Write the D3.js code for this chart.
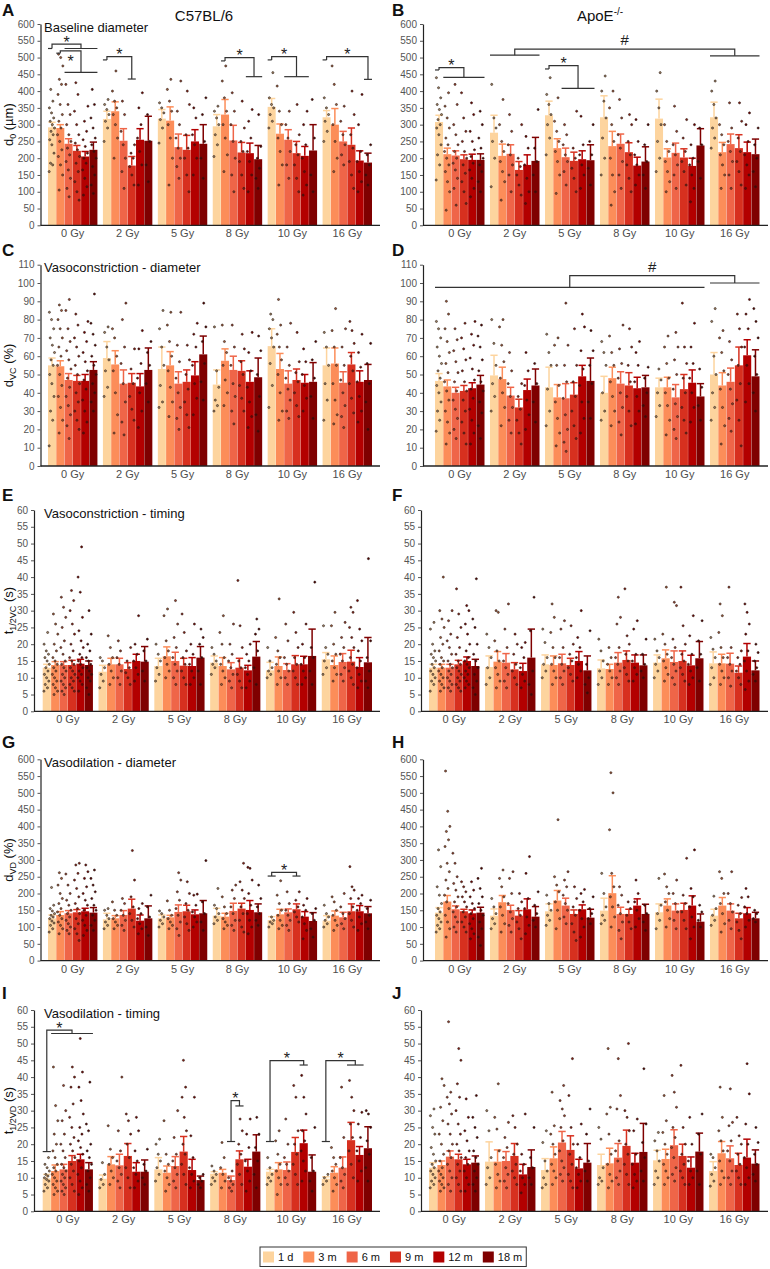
<!DOCTYPE html>
<html lang="en">
<head>
<meta charset="utf-8">
<title>vascular responses by dose and age</title>
<script src="https://d3js.org/d3.v7.min.js"></script>
<style>
body{margin:0;background:#fff;}
svg text{font-family:"Liberation Sans",Arial,sans-serif;}
.axis line{stroke:#555;}
.axis path{stroke:#222;stroke-width:1.2px;}
.axis text{fill:#555;font-size:10px;}
</style>
</head>
<body>
<div id="chart"></div>
<script>
var doses = ["0 Gy","2 Gy","5 Gy","8 Gy","10 Gy","16 Gy"];
var ages = ["1 d","3 m","6 m","9 m","12 m","18 m"];
var ageColors = ["#fdd49e","#fc8d59","#ef6548","#d7301f","#b30000","#7f0000"];

// rows = dose, columns = age; err = top of the error bar
var meanA = [[292,290,243,222,205,225],[317,340,252,178,255,252],[318,312,233,225,250,243],[295,330,253,217,215,197],[353,273,255,215,207,223],[322,300,250,240,193,187]];
var errA  = [[307,300,258,238,220,248],[340,368,288,205,288,325],[345,353,272,268,285,300],[330,375,298,247,245,238],[378,302,285,250,235,300],[342,348,280,290,222,215]];
var meanB = [[308,212,208,197,195,195],[276,207,213,165,180,192],[328,230,203,192,197,194],[322,236,243,218,178,190],[318,202,216,202,177,238],[322,218,242,230,218,212]];
var errB  = [[328,230,222,210,212,213],[328,242,240,190,210,262],[370,258,230,218,222,240],[386,280,272,246,203,234],[376,228,245,228,200,288],[367,247,272,270,248,257]];
var meanC = [[55,54.5,47,46.5,46.5,52.5],[59,55.5,45,45.5,43.5,52.5],[53,55,45,46,49.5,61],[44.5,57.5,52.5,52,46,48.5],[65.5,53,45,47,45.5,46],[55,56,45.5,55.5,46,47]];
var errC  = [[59,57.5,50.5,49.5,50,57],[68,63,52.5,50.5,50.5,64.5],[65,62.5,51.5,52.5,57,71],[52.5,64,60,57.5,52,59],[75,61.5,52,53,50,56.5],[64.5,64.5,51.5,62,52,55.5]];
var meanD = [[46.5,43.5,40,41,42.5,44.5],[49.5,47.5,38.5,32,41.5,44],[43,37.5,37,39,49,46.5],[40,48,45,44,42.5,43],[43,43,37.5,42,45.5,38],[50,44,46,55,60.5,49]];
var errD  = [[50.5,47,43,44,45.5,49.5],[60.5,54,43,36.5,47.5,53],[54,44.5,45,45.5,55,59],[49,54,51.5,51,48.5,49.5],[48,48.5,44.5,50,52.5,45],[62,51,53.5,65,69,63.5]];
var meanE = [[13,13.8,13.8,13.8,14.2,13.8],[11.8,14,14,12.6,15,14.8],[13.5,16.4,15,13.6,13.5,16],[14.5,13.5,12.5,13,12.2,16.3],[12.2,13.5,12.3,14,14,16.5],[15.5,13.8,14.7,14.8,13.2,14.6]];
var errE  = [[14,14.8,14.8,15.2,15.5,15],[13.7,15.8,15.8,14.5,17,19.3],[15.8,19.2,17.6,15.8,16,19.3],[16.5,16,14.5,15.8,13.7,20.8],[14.6,16.2,14.2,16.6,16.4,24.5],[17.5,16.5,17.2,18.2,16,22]];
var meanF = [[13,13,13,14,15,13.5],[13.2,14.8,14.5,12.5,12,16],[14,13.8,14.3,13.8,15,12.2],[12.8,12.6,14.5,15.3,14.5,13.7],[14.5,15.8,14.7,15,13.7,15.8],[14.3,14.3,14.2,11.5,16.3,12.2]];
var errF  = [[14,14,14,15.2,16.2,15.5],[16.5,17.8,17.2,14.5,14.3,24.5],[16.8,16.5,17,15.8,17.8,16.5],[15.3,14,17.5,18,16.8,16.8],[16.8,18.3,18,18,16.7,20.8],[17.7,17,17.3,13.5,20.2,15]];
var meanG = [[126,136,141,144,147,143],[123,126,136,155,119,126],[126,129,145,147,138,141],[134,131,148,155,151,144],[121,138,144,153,131,118],[119,134,129,147,147,141]];
var errG  = [[136,146,149,152,156,158],[141,134,149,183,136,163],[136,135,166,165,151,179],[156,141,171,171,179,169],[131,153,154,169,146,143],[134,148,144,169,164,161]];
var meanH = [[143,176,153,147,141,143],[134,174,151,134,153,131],[147,179,164,139,153,128],[149,201,139,139,164,139],[144,164,149,151,164,116],[134,164,149,126,141,126]];
var errH  = [[158,194,163,153,151,159],[154,194,165,149,184,161],[169,209,186,151,166,153],[186,253,159,153,184,168],[169,184,169,171,193,139],[153,188,169,141,158,144]];
var meanI = [[9.8,12,12.5,15,15.5,12.5],[9.7,14,13.7,16.5,11.8,11.8],[12.5,11.5,13.5,17.8,12.3,9.3],[11.2,11.5,9.3,15.5,13.3,17.8],[11.8,12.5,12.3,17.7,20.3,11.8],[9.7,11.5,13,21.2,16.8,18.8]];
var errI  = [[11,13.8,14,16.6,17,14.5],[10.8,16.3,17,20.2,14.5,15.3],[16,13.5,16.3,22.3,15.5,10.5],[11.8,12.5,10.5,18,15.5,22.8],[12.5,14.5,14.7,22,24.2,16.8],[10.3,13.3,16.2,26.5,19.3,25.2]];
var meanJ = [[13,13.8,16.3,15.5,14,14.5],[14.8,14.8,15,16.5,11,13.2],[12.3,15.8,20.5,18.3,12.8,14.5],[13.8,14.3,16,19.5,14.5,17.7],[15.2,15.6,19.7,16.5,13,17.8],[12,17.3,15.8,13.8,16,14.2]];
var errJ  = [[14.5,15,18,17,15.5,16.5],[20.7,18.3,17.8,20.2,14,18.3],[15.7,19.2,23.8,22.5,15.5,20.2],[17,18.8,20.2,24.2,17.3,26.2],[18.2,18.5,24.3,20,16.2,23.3],[14.8,20.8,19.5,17.3,21.5,18.3]];

// individual vessels, one string per dose, ages separated by ";"
var dotsA = [
"160 180 185 215 240 255 270 280 290 300 310 320 335 350 370 405;105 150 180 205 225 250 270 290 310 330 360 390 420 435 475 500 510;85 110 140 165 190 210 230 250 270 300 330 360 420;75 100 130 160 185 205 225 245 270 300 340 390 425;90 115 140 165 185 200 215 235 255 280 310 355;95 120 150 175 200 220 240 260 290 320 360 405",
"250 290 310 330 345 360 375;200 260 300 330 350 370 400 460;110 160 200 240 280 330 370;120 150 175 200 215 240;120 180 220 260 300 350 395;130 180 250 330",
"245 290 315 335 350 365;120 200 260 300 340 370 405 435;140 175 200 230 260 300 340 430;100 150 200 230 270 360 400;150 200 240 270 320 350;140 200 250 330 380",
"205 240 270 300 320 340 355;160 210 260 300 340 380 430 475;100 150 200 250 300 340 395;110 150 190 220 250 290 370;100 150 190 220 260 310 345;110 140 170 200 235 330",
"290 310 330 350 360 380 455;120 180 220 260 300 340 415;140 180 220 260 300 340;100 140 180 210 240 270 360;90 120 160 200 240 300 340;100 150 260 375",
"250 280 310 330 350 380;160 200 250 300 360 420 475;180 210 240 270 310 355;110 150 190 230 270 330 400;100 130 160 190 220 300 390;120 150 180 210 240"];
var dotsB = [
"135 180 210 240 270 290 300 315 330 345 360 380 410 440;45 100 130 160 180 200 220 240 260 290 320 355 395;60 110 140 165 185 200 220 240 270 300 360 420;65 100 130 155 180 200 220 250 280 320 395;85 110 140 165 185 205 225 250 280 330 365;100 130 160 180 200 230 260 300 340",
"115 200 250 290 320 420;75 130 160 190 220 250 300 375;100 150 180 210 240 280 330;90 120 150 175 200 300;65 100 140 180 230 265;100 150 190 230 345",
"210 260 300 330 360 390 440;95 150 190 220 250 280 310 380;120 160 190 210 240 270 300;100 140 170 200 230 340;110 150 180 210 240 325;120 170 210 250 300",
"150 200 260 320 370 400 445;60 100 150 200 250 300 350 400;110 150 190 230 270 320 375;100 140 180 210 250 300 330;120 150 180 210 250 315;110 150 190 240 300",
"160 200 250 300 350 400 455;100 130 160 190 220 250 300;110 150 180 210 240 280 355;120 160 190 220 260 315;70 110 150 180 200 240 300;140 190 240 290",
"230 260 290 320 360 400 430;110 150 180 210 240 270 300;110 150 190 220 250 290 365;120 160 190 220 260 310 365;110 150 180 210 250 300 335;115 160 200 240 290"];
var dotsC = [
"11 25 30 38 45 50 55 58 62 66 70 75 80 84;18 25 32 38 44 50 55 60 65 70 75 80 85 88;15 22 28 33 38 43 48 53 58 63 68 75 85 91;20 25 30 35 40 45 50 55 60 65 70 77 83;18 24 30 36 42 47 52 57 62 68 73 79;30 35 40 45 50 55 60 66 72 78 94",
"38 43 52 58 65 73 76;18 28 40 52 60 70 75;17 24 35 45 56 65 80 89;25 31 38 45 53 64;21 30 40 48 56 64 74;35 45 55 62 68",
"32 35 44 55 65 75 85;27 35 43 52 60 68 77 84;20 26 32 40 48 57 66 84;21 28 35 42 50 58 66;28 37 45 55 65 72 78;36 46 56 68 76 89",
"30 33 36 43 52 76;33 40 47 55 62 68 77;23 30 38 45 55 65 77;30 37 44 50 57 64 72;21 27 35 43 52 62 73;19 28 38 50 63 71",
"32 44 56 65 70 75 80 83;25 30 40 50 58 65 72 77 91;26 30 36 42 48 55 65 78;27 33 40 46 51 57 73;30 37 44 50 57 64;26 38 48 58 68",
"25 36 45 55 65 73;23 28 36 45 55 65 74 86;21 27 33 40 47 55 65 75;29 37 45 52 60 67 74 79;24 30 38 46 54 62 72;20 35 45 56 67"];
var dotsD = [
"19 25 30 35 40 44 48 52 56 60 65 70 75 79;12 18 24 30 36 41 46 51 56 62 68 75 83 90;15 20 26 31 36 41 46 51 57 63 69 75;12 18 24 30 36 41 46 52 58 64 70 78;12 18 25 31 37 42 47 53 59 66 72 79;15 22 29 35 41 46 52 58 65 71 77",
"30 38 45 55 67 80;22 32 40 48 57 66 76 80;18 25 32 38 45 52 62;12 18 25 31 38 45;20 28 36 44 52 62;24 35 45 56",
"22 30 42 55 62 72;11 18 26 35 44 55 66 70;8 13 20 28 37 46 55 66 89;15 22 30 38 46 55 75;18 26 35 44 53 63 76 83;26 35 45 55 63 74",
"25 30 40 55 62 68;22 30 38 46 55 62 71;17 24 32 40 48 56 64 77;22 30 38 46 55 65 75;23 30 38 46 55 62 68;27 33 40 48 54",
"27 33 40 47 53;17 25 33 40 48 56 65 71;15 20 27 34 42 50 58 65 73;18 25 32 40 48 56 65 89;24 32 40 48 56 65 78;25 33 43 53",
"25 32 40 50 60 79 86;12 22 32 42 52 62 70 74;19 26 34 42 50 58 68;11 25 36 45 55 65 75 83;35 45 55 65 75 83 91;30 40 50 60 70 79 86"];
var dotsE = [
"6 7 8 9 10 11 12 13 14 15 16 17 18 20 23.5;5 6 7 8 9 10 11 12 13 14 15 16 18 20 23 26 29;5 6 7 8 9 10 11 12 13 14 15 17 19 21 25 28 31 34;6 7 8 9 10 11 12 13 14 15 16 18 20 23 26 30 33 36;6 8 9 10 11 12 13 14 15 16 17 19 21 24 28 35.5 40 49;5 7 9 10 11 12 13 14 15 16 18 20 23 30",
"7 9 11 13 15 16;8 10 12 14 16 19 22.5;8 10 12 14 16 18 21;8 10 11.5 13 15 19;9 11 13 15 17 20 28.5;9 12 15 18 21.5",
"9 11 13 15 17 20;10 12 14 16 18 21 28.5 30.5;8 10 12 14 16 19 22 26 33;8 10 12 14 16 18 23.5 29;8 10 12 14 17 20 26;8 12 16 20 22 24.5",
"11 13 14 15 17 19;8 10 12 14 16 20 23.5 28.5;7 9 11 13 15 17 20 26;7 9 11 13 15 19 25.5 39;7 9 11 13 15 17 20;8 13 18 23 24.5 27.5",
"10 11 12 13 15 19;8 10 12 14 16 18 22 33.5;8 10 12 14 16 21 26;8 10 12 14 16 19 23.5 29.5;8 10 12 14 16 20 26;8 12 16 19 38.5",
"11 13 15 17 19 25.5;9 11 13 15 17 20 25.5 29.5;9 11 13 15 17 19 22 26.5;8 10 12 14 16 19 22 25 29.5 31;7 9 11 13 15 18 21 24.5 33;7 9 12 16 21 45.5"];
var dotsF = [
"6 8 9 10 11 12 13 14 15 16 17 18 20 24.5 26.5;6 7 8 9 10 11 12 13 14 15 16 18 20 22 25 27.5 30 40;6 7 8 9 10 11 12 13 14 15 17 19 21 23 27 30;6 7 8 9 10 11 12 13 14 15 17 19 22 25 29 36.5;7 8 9 10 11 12 13 14 15 16 18 20 23 26 30 31.5;5 7 9 11 13 15 17 20 25 27.5 39.5",
"8 10 13 16 19 23;7 9 11 13 15 18 21 29.5 30;7 9 11 13 15 19 24.5 32;8 10 12 14 17 20 23;7 9 11 13 16 19 20.5;5 8 12 24 34",
"10 12 14 16 20.5 24.5;8 10 12 14 16 19 23.5 28 32;8 10 12 14 16 19 24.5 27;9 11 13 15 17 20 25.5;10 12 14 16 19 22 30;5.5 8 10 14 24",
"8 10 12 15 18 21.5;8 10 12 14 16 19;8 10 12 14 16 19 26 28 34;9 11 13 15 17 20 22.5 36.5;9 11 13 15 17 24.5 27;10 12 14 17 21.5",
"10 12 14 16 18 21.5;9 11 13 15 17 20 23 37;8 10 12 14 16 19 21.5 31.5 32.5;9 11 13 15 17 20 25.5 37;8 10 12 14 17 22.5 28.5;9 13 17 21 27",
"8 10 13 16 18.5 22;8 10 12 14 16 19 23.5 28.5 32;7.5 10 12 14 16 19 37;8 10 12 14 16 18;6.5 9 12 15 18 23 26 29.5 32;9 11 13 15 17.5 20"];
var dotsG = [
"85 95 105 112 118 125 130 135 140 148 155 165 218;80 95 105 115 125 135 145 155 170 185 200 225 245 262;80 90 100 110 120 130 140 150 165 180 200 225 258;60 80 95 110 125 140 155 170 190 215 240 260 285 290;75 90 105 120 135 150 165 180 200 220 245 265 285;90 105 120 135 150 165 185 205 225 245 270",
"95 105 115 125 135 150 155;95 105 115 125 135 150 175;90 105 120 135 150 170 185;100 120 140 160 190 240 328;80 95 110 125 140 155 170;75 100 130 160 195",
"100 110 120 130 140 148;95 105 115 125 135 150 178;75 95 115 135 155 180 205 240 262;90 110 130 150 170 200 235;100 115 130 145 165 195 198;90 115 140 175 298",
"110 120 130 140 155 165 215;95 105 115 125 140 160 190;90 105 120 140 160 185 210 225;85 100 120 140 160 185 210 235 290;80 100 120 140 165 200 240 275 278;105 120 140 160 185 225",
"100 110 115 120 130;95 105 120 135 150 170 195 238;90 105 120 135 150 170 205;115 130 145 160 180 205;65 90 110 130 150 165 185;70 95 120 140 155",
"100 110 120 130 140 165;90 105 120 135 150 175 190;95 110 125 140 160 200;100 120 140 160 185 210 220 280;90 110 130 150 170 185 195;95 115 135 155 180"];
var dotsH = [
"85 95 105 115 125 135 145 155 170 195 220 280 330;70 95 115 135 155 175 195 215 240 265 290 340 360 385 400 445 565;85 100 115 130 145 160 175 190 210 230 250 290 320;85 100 115 130 145 160 175 190 205 220 235;65 80 95 110 125 140 155 170 190 210 235;45 70 95 115 135 150 170 190 215 245 275",
"95 110 125 140 160 185;85 110 135 160 190 220 245 270;85 105 125 145 170 200 245 265;65 95 115 135 155 175 200;80 105 130 155 185 260 310;100 120 140 165 205",
"105 120 135 150 170 195;95 125 150 175 205 225 250 420;110 130 150 170 195 220 240 265;60 85 110 135 160 185 220;70 100 125 150 175 200 212;110 125 140 155 190",
"110 120 135 160 200 260;100 130 160 190 220 260 390 500 560;65 90 115 140 165 195 220;95 115 135 155 175;100 125 150 175 200 240;90 115 140 165",
"95 120 140 165 245;100 125 150 175 200 220 258;95 120 145 170 200 240;95 120 145 170 195 305;65 100 130 160 190 215 330;100 120 145 165",
"105 120 135 155 192;85 110 140 170 200 245 265;95 120 145 170 200 265;65 90 115 140 165 188;100 120 140 160 190 215;115 125 140 150"];
var dotsI = [
"6 7 8 9 9.5 10 10.5 11 12 13 14 16;5 6 7 8 9 10 11 12 13 14 16 18 20 23 27 31.5 43;5 6 7 8 9 10 11 12 13 14 16 18 20 23 27 30 37.5;6 8 10 12 14 16 18 20 22 25 28 32 37 40 43;5 7 9 11 13 15 17 19 21 23 25 29 33 37 41.5 51.5;6 8 10 12 14 16 18 20 24 26 38.5",
"7 8 9.5 11 14.5;8 10 12 14 16 18.5 25.5;7 9 11 13 15 18 24 40;7 10 13 16 20 23 27 29;7 9 11 13 15 18 24 28;8 10 12 14 18.5",
"9 11 13 15 17 20 21.5;6 8 10 12 14 17 27;7 9 11 13 15 17 22 30;8 11 14 17 20 24 28 34 37 45;7 9 11 13 16 22.5 34;7 8 9 10 11",
"8 9 10 11 12 13.5;7 9 11 13 16 20.5;6 7 8 9 10 12;8 11 14 17 20 24 27.5;6 9 12 15 19 23 27.5;7 11 15 19 23 28",
"8 9 10 11 13 16;5 8 10 12 14 17 21 24;8 10 12 14 16 20 27.5;8 11 14 17 20 24 34 37.5;9 12 15 18 21 24 29 34 40.5;6 9 12 16 25",
"8 9 10 11;6 8 10 12 14 16 19;7 9 11 13 16 22 37;10 14 18 22 26 30 34 39;9 12 15 18 22 26 29.5;9 13 17 21 25 29 30"];
var dotsJ = [
"7 8 9 10 11 12 13 14 15 17 19 23 25 28.5 30.5;6 7 8 9 10 11 12 13 15 17 20 23 27 31 37.5 39.5;6 8 10 12 14 16 18 20 23 26 29 32 34 35.5 56.5;6 8 10 12 14 16 18 20 23 26 30 34 38 45 48.5;6 8 10 12 14 16 18 21 24 28 33.5;6 8 10 12 14 16 18 22 25 28 34.5",
"8 10 13 16 24 30;7 9 11 14 18 24.5 28 38;7 9 11 13 16 19 22 26.5;8 10 12 14 17 20 25 28.5;5.5 8 10 12 14 17 29;8 10 13 16 25",
"7 8 10 12 15 20.5 24;8 10 12 14 17 20 23 25.5 35.5;9 11 13 15 18 21 25 28.5 30.5 33 37.5;7 9 11 14 17 20 25 34.5 45.5;7 9 11 13 16 20 26;9 12 15 23 30.5",
"8 9 10 13 21.5 25;7 9 11 14 17 23 29 31 48.5;8 10 12 15 18 21 30.5 34.5 45.5;8 11 14 17 20 24 28 30 50;7 9 11 14 17 24 27.5;9 12 16 20.5 26 42.5",
"8 10 12 15 18 21 23.5;8 10 12 14 17 20 23.5 27 34.5;9 11 13 16 19 22 25 31 35.5 40.5;8 10 12 14 17 20 25 43.5;8 10 12 15 20 28;8 12 17 23 29",
"7.5 9 11 13 16 17;8 10 12 15 18 21 24 28 37;8 10 12 15 18 21 25.5 26.5 36.5;8 10 12 14 17 20 22.5 28;8 10 13 16 20 26 35 44;9 11 14 17 20.5 25"];

// significance brackets: ends are [dose0, age0, dose1, age1, value, tickOnly]
var bracketsA = [
  {L:[0,0,0,0,527,1], R:[0,2,0,5,527], top:540, text:"*"},
  {L:[0,1,0,1,513,1], R:[0,2,0,5,456], top:520, text:"*", ly:500},
  {L:[1,0,1,0,493,1], R:[1,3,1,3,436], top:503, text:"*"},
  {L:[3,1,3,1,490,1], R:[3,4,3,5,443], top:500, text:"*"},
  {L:[4,0,4,0,493,1], R:[4,2,4,4,443], top:503, text:"*"},
  {L:[5,0,5,0,493,1], R:[5,5,5,5,435], top:503, text:"*"}];
var bracketsB = [
  {L:[0,0,0,0,463,1], R:[0,1,0,5,441], top:470, text:"*"},
  {L:[2,0,2,0,466,1], R:[2,2,2,5,408], top:476, text:"*"},
  {L:[1,0,1,5,507], R:[5,0,5,5,505], top:525, text:"#"}];
var bracketsD = [{L:[0,0,4,5,97.6], R:[5,0,5,5,100], top:104, text:"#"}];
var bracketsG = [{L:[4,0,4,0,252], R:[4,3,4,3,252], top:263, text:"*"}];
var bracketsI = [
  {L:[0,0,0,0,17.8], R:[0,1,0,5,53], top:54, text:"*"},
  {L:[3,2,3,2,20.8], R:[3,3,3,3,31.4], top:33, text:"*"},
  {L:[4,0,4,0,20.8], R:[4,4,4,4,43.6], top:44.9, text:"*"},
  {L:[5,0,5,0,20.8], R:[5,3,5,4,43.6], top:44.9, text:"*"}];

var rowTop = [24, 264.7, 510, 759.3, 1010];
var plotH = 201.3;

var panels = [
  {key:"A", row:0, col:0, mean:meanA, err:errA, dots:dotsA, max:600, step:50, br:bracketsA, title:"Baseline diameter", yl:["d","0"," (\u00b5m)"]},
  {key:"B", row:0, col:1, mean:meanB, err:errB, dots:dotsB, max:600, step:50, br:bracketsB},
  {key:"C", row:1, col:0, mean:meanC, err:errC, dots:dotsC, max:110, step:10, br:[], title:"Vasoconstriction - diameter", yl:["d","VC"," (%)"]},
  {key:"D", row:1, col:1, mean:meanD, err:errD, dots:dotsD, max:110, step:10, br:bracketsD},
  {key:"E", row:2, col:0, mean:meanE, err:errE, dots:dotsE, max:60, step:5, br:[], title:"Vasoconstriction - timing", yl:["t","1/2VC"," (s)"]},
  {key:"F", row:2, col:1, mean:meanF, err:errF, dots:dotsF, max:60, step:5, br:[]},
  {key:"G", row:3, col:0, mean:meanG, err:errG, dots:dotsG, max:600, step:50, br:bracketsG, title:"Vasodilation - diameter", yl:["d","VD"," (%)"]},
  {key:"H", row:3, col:1, mean:meanH, err:errH, dots:dotsH, max:600, step:50, br:[]},
  {key:"I", row:4, col:0, mean:meanI, err:errI, dots:dotsI, max:60, step:5, br:bracketsI, title:"Vasodilation - timing", yl:["t","1/2VD"," (s)"]},
  {key:"J", row:4, col:1, mean:meanJ, err:errJ, dots:dotsJ, max:60, step:5, br:[]}
];

var svg = d3.select("#chart").append("svg")
  .attr("width", 770).attr("height", 1269);

function drawPanel(p) {
  var wide = p.max >= 100;
  var top = rowTop[p.row], bot = top + plotH;
  var axisX, x0, x1, axisEnd;
  if (p.col == 0) { axisX = wide ? 40.5 : 34; x0 = wide ? 48 : 42.7; x1 = 372; axisEnd = 380; }
  else { axisX = wide ? 423 : 421; x0 = wide ? 435 : 429; x1 = 759.5; axisEnd = 768; }

  var y = d3.scaleLinear().domain([0, p.max]).range([bot, top]);
  var xg = d3.scaleBand().domain(doses).range([x0, x1]).paddingInner(0.1).paddingOuter(0);
  var xs = d3.scaleBand().domain(ages).range([0, xg.bandwidth()]).paddingInner(0.03);
  var bw = xs.bandwidth();

  var g = svg.append("g");

  var rows = [];
  doses.forEach(function(d, i) {
    var parts = p.dots[i].split(";");
    ages.forEach(function(a, j) {
      rows.push({dose:d, age:a, j:j, mean:p.mean[i][j], err:p.err[i][j],
        pts: parts[j].trim().split(/\s+/).map(Number)});
    });
  });

  g.selectAll(".bar").data(rows).enter().append("rect")
    .attr("class", "bar")
    .attr("x", function(d){ return xg(d.dose) + xs(d.age); })
    .attr("width", bw)
    .attr("y", function(d){ return y(d.mean); })
    .attr("height", function(d){ return bot - y(d.mean); })
    .attr("fill", function(d){ return ageColors[d.j]; });

  // error bars (upper only)
  var eb = g.selectAll(".eb").data(rows).enter().append("g").attr("class", "eb")
    .attr("stroke", function(d){ return ageColors[d.j]; })
    .attr("stroke-width", 1.5);
  eb.append("line")
    .attr("x1", function(d){ return xg(d.dose) + xs(d.age) + bw/2; })
    .attr("x2", function(d){ return xg(d.dose) + xs(d.age) + bw/2; })
    .attr("y1", function(d){ return y(d.mean); })
    .attr("y2", function(d){ return y(d.err); });
  eb.append("line")
    .attr("x1", function(d){ return xg(d.dose) + xs(d.age) + bw*0.05; })
    .attr("x2", function(d){ return xg(d.dose) + xs(d.age) + bw*0.95; })
    .attr("y1", function(d){ return y(d.err); })
    .attr("y2", function(d){ return y(d.err); });

  // dots
  rows.forEach(function(r) {
    var cx = xg(r.dose) + xs(r.age) + bw/2;
    var dotFill = d3.color(ageColors[r.j]).darker(1.3).formatHex();
    g.selectAll(null).data(r.pts).enter().append("circle")
      .attr("cx", function(v, k){ return cx + (((k * 0.618034 + r.j * 0.3) % 1) - 0.5) * bw * 0.7; })
      .attr("cy", function(v){ return y(v); })
      .attr("r", 1.05)
      .attr("fill", dotFill)
      .attr("stroke", "#2a1a14")
      .attr("stroke-width", 0.6);
  });

  // axes
  var ya = d3.axisLeft(y).tickValues(d3.range(0, p.max + 1, p.step))
    .tickSize(3).tickSizeOuter(0).tickPadding(3);
  g.append("g").attr("class", "axis")
    .attr("transform", "translate(" + axisX + ",0)")
    .call(ya);
  g.append("line").attr("x1", axisX).attr("x2", axisEnd)
    .attr("y1", bot).attr("y2", bot)
    .attr("stroke", "#222").attr("stroke-width", 1.3);
  g.selectAll(".glab").data(doses).enter().append("text")
    .attr("x", function(d){ return xg(d) + xg.bandwidth()/2; })
    .attr("y", bot + 12)
    .attr("text-anchor", "middle")
    .attr("font-size", "11px").attr("fill", "#4d4d4d")
    .text(function(d){ return d; });

  // brackets
  function span(e) {
    var a = xg(doses[e[0]]) + xs(ages[e[1]]);
    var b = xg(doses[e[2]]) + xs(ages[e[3]]) + bw;
    return {a:a, b:b, c:(a+b)/2};
  }
  p.br.forEach(function(br) {
    var L = span(br.L), R = span(br.R);
    var lc = br.L[5] ? xg(doses[br.L[0]]) + xs(ages[br.L[1]]) + bw/2 : L.c;
    var path = "M" + lc + "," + y(br.L[4]) + "V" + y(br.top) + "H" + R.c + "V" + y(br.R[4]);
    g.append("path").attr("d", path).attr("fill", "none")
      .attr("stroke", "#333").attr("stroke-width", 1.2);
    g.append("line")
      .attr("x1", L.a).attr("x2", br.L[5] ? lc : L.b)
      .attr("y1", y(br.L[4])).attr("y2", y(br.L[4]))
      .attr("stroke", "#333").attr("stroke-width", 1.2);
    g.append("line").attr("x1", R.a).attr("x2", R.b)
      .attr("y1", y(br.R[4])).attr("y2", y(br.R[4]))
      .attr("stroke", "#333").attr("stroke-width", 1.2);
    var tx = (lc + R.c) / 2, ty;
    if (br.text == "#") ty = y(br.top) - 4;
    else ty = br.ly ? y(br.ly) + 9 : y(br.top) + 3.5;
    g.append("text").attr("x", tx).attr("y", ty)
      .attr("text-anchor", "middle")
      .attr("font-size", br.text == "#" ? "15px" : "16px")
      .attr("fill", "#222")
      .text(br.text);
  });

  // panel letter
  var letterY = [16, 256, 501, 748, 999][p.row];
  g.append("text").attr("x", p.col == 0 ? 2 : 392).attr("y", letterY)
    .attr("font-size", "17px").attr("font-weight", "bold").attr("fill", "#111")
    .text(p.key);

  if (p.title) {
    g.append("text").attr("x", 44).attr("y", top + 7.5)
      .attr("font-size", "13px").attr("fill", "#111").text(p.title);
  }
  if (p.yl) {
    var t = g.append("text")
      .attr("transform", "translate(12.5," + (top + plotH/2) + ") rotate(-90)")
      .attr("text-anchor", "middle").attr("font-size", "13px").attr("fill", "#111");
    t.append("tspan").text(p.yl[0]);
    t.append("tspan").attr("font-size", "9px").attr("dy", 3).text(p.yl[1]);
    t.append("tspan").attr("dy", -3).text(p.yl[2]);
  }
}

panels.forEach(drawPanel);

// strain titles
svg.append("text").attr("x", 204).attr("y", 21).attr("text-anchor", "middle")
  .attr("font-size", "15px").attr("fill", "#111").text("C57BL/6");
var apo = svg.append("text").attr("x", 600).attr("y", 21).attr("text-anchor", "middle")
  .attr("font-size", "15px").attr("fill", "#111");
apo.append("tspan").text("ApoE");
apo.append("tspan").attr("font-size", "10px").attr("dy", -6).text("-/-");

// legend
var leg = svg.append("g");
var box = leg.append("rect").attr("y", 1247).attr("height", 19.5)
  .attr("fill", "#fff").attr("stroke", "#333").attr("stroke-width", 1);
var sx = 263;
ages.forEach(function(a, j) {
  leg.append("rect").attr("x", sx).attr("y", 1251.5).attr("width", 11).attr("height", 11)
    .attr("fill", ageColors[j]);
  var tt = leg.append("text").attr("x", sx + 15).attr("y", 1261)
    .attr("font-size", "11px").attr("fill", "#111").text(a);
  var w = tt.node().getComputedTextLength();
  sx = sx + 15 + w + 10;
});
box.attr("x", 260).attr("width", sx - 10 + 4 - 260);
</script>
</body>
</html>
